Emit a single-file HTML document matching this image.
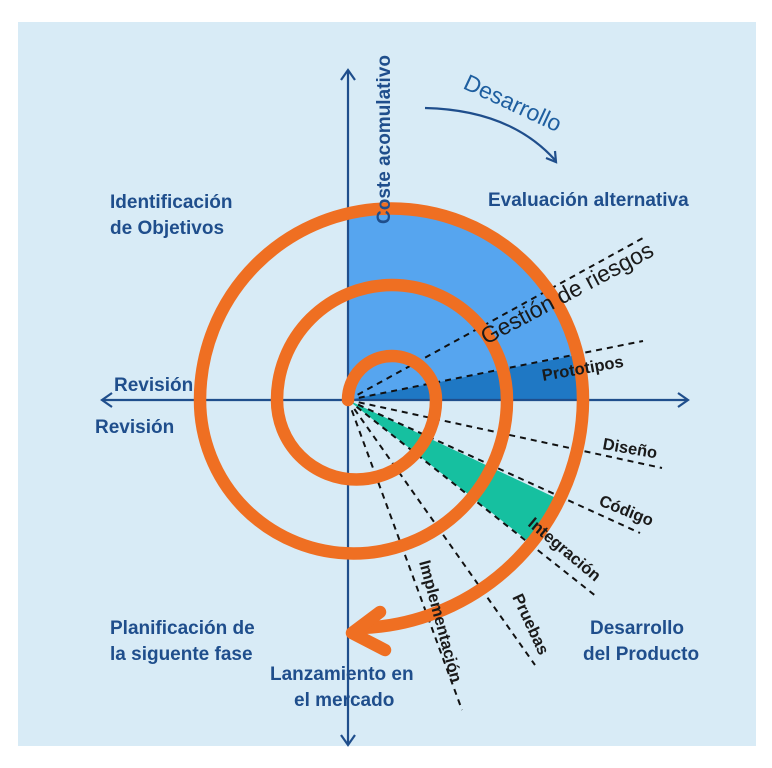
<!DOCTYPE html>
<html><head><meta charset="utf-8"><style>
html,body{margin:0;padding:0;background:#fff;}
svg{display:block;font-family:"Liberation Sans",sans-serif;}
.b{fill:#1f4e8c;font-weight:bold;font-size:19px;}
.k{fill:#1a1a1a;font-weight:bold;font-size:16.5px;}
</style></head><body>
<svg width="772" height="768" viewBox="0 0 772 768" xmlns="http://www.w3.org/2000/svg">
<rect x="18" y="22" width="738" height="724" fill="#d8ebf6"/>
<path d="M348,400 L348,212 A191.5,191.5 0 0 1 583,400 Z" fill="#56a5ef"/>
<path d="M348,400 L577,355 A191.5,191.5 0 0 1 583,400 Z" fill="#1f78c4"/>
<path d="M348,400 L556,498 L533,545 Z" fill="#16c0a0"/>
<g stroke="#1f4e8c" stroke-width="2.2" fill="none">
<line x1="348" y1="70" x2="348" y2="745"/>
<polyline points="341,80 348,70 355,80"/>
<polyline points="341,735 348,745 355,735"/>
<line x1="102" y1="400" x2="688" y2="400"/>
<polyline points="112,393 102,400 112,407"/>
<polyline points="678,393 688,400 678,407"/>
<path d="M425,108 Q510,110 555,160"/>
<polyline points="546,158 556,162 555,151"/>
</g>
<g stroke="#111" stroke-width="2" stroke-dasharray="6,5" fill="none">
<line x1="348" y1="400" x2="643" y2="238"/>
<line x1="348" y1="400" x2="643" y2="341"/>
<line x1="348" y1="400" x2="662" y2="468"/>
<line x1="348" y1="400" x2="640" y2="533"/>
<line x1="348" y1="400" x2="597" y2="597"/>
<line x1="348" y1="400" x2="535" y2="665"/>
<line x1="348" y1="400" x2="462" y2="710"/>
</g>
<g stroke="#ef6f22" stroke-width="12.5" fill="none" stroke-linecap="round">
<path d="M348,400 A44,44 0 0 1 436,400 A79.5,79.5 0 0 1 277,400 A115,115 0 0 1 507,400 A153.5,153.5 0 0 1 200,400 A191.5,191.5 0 0 1 583,400 A230,230 0 0 1 362,628"/>
<polyline points="380,612 352,633 385,650" stroke-linejoin="round"/>
</g>
<text class="b" x="110" y="208">Identificación</text>
<text class="b" x="110" y="234">de Objetivos</text>
<text class="b" x="488" y="206">Evaluación alternativa</text>
<text class="b" x="114" y="391">Revisión</text>
<text class="b" x="95" y="433">Revisión</text>
<text class="b" x="110" y="634">Planificación de</text>
<text class="b" x="110" y="660">la siguente fase</text>
<text class="b" x="270" y="680">Lanzamiento en</text>
<text class="b" x="294" y="706">el mercado</text>
<text class="b" x="590" y="634">Desarrollo</text>
<text class="b" x="583" y="660">del Producto</text>
<text class="b" transform="translate(390,224) rotate(-90)">Coste acomulativo</text>
<text fill="#1f5fa0" font-size="23" transform="translate(462,88) rotate(25)">Desarrollo</text>
<text fill="#1a1a1a" font-size="23" transform="translate(486,345) rotate(-28)">Gestión de riesgos</text>
<text class="k" transform="translate(543,381) rotate(-10)">Prototipos</text>
<text class="k" transform="translate(602,449) rotate(10)">Diseño</text>
<text class="k" transform="translate(598,505) rotate(22)">Código</text>
<text class="k" transform="translate(527,525) rotate(40)">Integración</text>
<text class="k" transform="translate(512,597) rotate(65)">Pruebas</text>
<text class="k" transform="translate(419,562) rotate(75)">Implementación</text>
</svg>
</body></html>
